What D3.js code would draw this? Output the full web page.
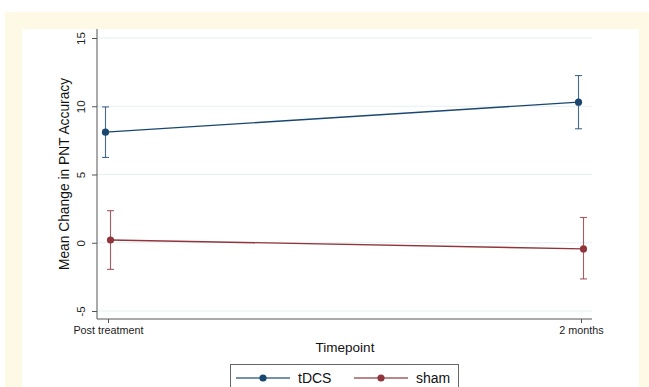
<!DOCTYPE html>
<html>
<head>
<meta charset="utf-8">
<script src="https://cdn.jsdelivr.net/npm/d3@7"></script>
<style>
  html, body { margin: 0; padding: 0; background: #ffffff; }
  svg { display: block; font-family: "Liberation Sans", Arial, Helvetica, sans-serif; }
</style>
</head>
<body>
<svg id="chart" width="649" height="387"></svg>
<script>
// Timepoints on the x axis
const timepoints = ["Post treatment", "2 months"];
// Group means and 95% confidence limits at each timepoint
const groups = ["tDCS", "sham"];
const tdcsMean = [8.1, 10.3];
const tdcsLower = [6.25, 8.35];
const tdcsUpper = [9.95, 12.25];
const shamMean = [0.2, -0.45];
const shamLower = [-1.95, -2.65];
const shamUpper = [2.35, 1.85];
const yTicks = [-5, 0, 5, 10, 15];

const colors = { tDCS: "#1a476f", sham: "#90353b" };
const series = [
  { name: "tDCS", mean: tdcsMean, lo: tdcsLower, hi: tdcsUpper, shift: -2.5 },
  { name: "sham", mean: shamMean, lo: shamLower, hi: shamUpper, shift: 2.5 }
];

const svg = d3.select("#chart");
const W = 649, H = 387;

// Frame: cream border around a white panel
svg.append("rect").attr("x", 5).attr("y", 12).attr("width", W - 5).attr("height", H - 12).attr("fill", "#fef9e5");
svg.append("rect").attr("x", 22).attr("y", 29).attr("width", 617).attr("height", H - 29).attr("fill", "#ffffff");

const plot = { left: 97, right: 592, top: 29, bottom: 319 };

const x = d3.scalePoint().domain(timepoints).range([108, 581]);
const y = d3.scaleLinear().domain([-5, 15]).range([311, 38]);

// Horizontal gridlines
svg.append("g").selectAll("line").data(yTicks).join("line")
  .attr("x1", plot.left).attr("x2", plot.right)
  .attr("y1", d => y(d)).attr("y2", d => y(d))
  .attr("stroke", "#e6eff1").attr("stroke-width", 1);

// Y axis (plain hyphen for negative labels)
const yAxis = svg.append("g").attr("transform", `translate(${plot.left},0)`)
  .call(d3.axisLeft(y).tickValues(yTicks).tickFormat(d => String(d)).tickSize(5).tickPadding(4));
yAxis.select(".domain").attr("d", `M0,${plot.top}V${plot.bottom}`).attr("stroke", "#555");
yAxis.selectAll(".tick line").attr("stroke", "#555");
yAxis.selectAll(".tick text")
  .attr("fill", "#222").attr("font-size", 11.5)
  .attr("transform", "rotate(-90)")
  .attr("x", 0).attr("y", -16).attr("dy", "0.35em")
  .attr("text-anchor", "middle");

// X axis
const xAxis = svg.append("g").attr("transform", `translate(0,${plot.bottom})`)
  .call(d3.axisBottom(x).tickSize(4).tickPadding(3));
xAxis.select(".domain").attr("d", `M${plot.left},0H${plot.right}`).attr("stroke", "#555");
xAxis.selectAll(".tick line").attr("stroke", "#555");
xAxis.selectAll(".tick text").attr("fill", "#222").attr("font-size", 10.8);

// Axis titles
svg.append("text")
  .attr("transform", `translate(69,${(plot.top + plot.bottom) / 2}) rotate(-90)`)
  .attr("text-anchor", "middle").attr("font-size", 13.8).attr("fill", "#111")
  .text("Mean Change in PNT Accuracy");
svg.append("text")
  .attr("x", 345).attr("y", 352).attr("text-anchor", "middle")
  .attr("font-size", 13.5).attr("fill", "#111").text("Timepoint");

// Lines, error bars and markers
series.forEach(s => {
  const c = colors[s.name];
  const pts = timepoints.map((t, i) => ({ x: x(t) + s.shift, m: s.mean[i], lo: s.lo[i], hi: s.hi[i] }));
  const g = svg.append("g");
  g.append("path").datum(pts)
    .attr("d", d3.line().x(d => d.x).y(d => y(d.m)))
    .attr("fill", "none").attr("stroke", c).attr("stroke-width", 1.3);
  const eb = g.selectAll(".eb").data(pts).join("g");
  eb.append("line").attr("x1", d => d.x).attr("x2", d => d.x)
    .attr("y1", d => y(d.lo)).attr("y2", d => y(d.hi))
    .attr("stroke", c).attr("stroke-width", 1.1).attr("opacity", 0.8);
  [d => d.lo, d => d.hi].forEach(f => {
    eb.append("line").attr("x1", d => d.x - 3.5).attr("x2", d => d.x + 3.5)
      .attr("y1", d => y(f(d))).attr("y2", d => y(f(d)))
      .attr("stroke", c).attr("stroke-width", 1.1).attr("opacity", 0.8);
  });
  eb.append("circle").attr("cx", d => d.x).attr("cy", d => y(d.m))
    .attr("r", 3.6).attr("fill", c);
});

// Legend
const lg = svg.append("g");
lg.append("rect").attr("x", 230.5).attr("y", 364.5).attr("width", 228).attr("height", 40)
  .attr("fill", "#fff").attr("stroke", "#666").attr("stroke-width", 1);
const legendItems = [
  { name: groups[0], x0: 236 },
  { name: groups[1], x0: 354 }
];
legendItems.forEach(it => {
  const c = colors[it.name];
  lg.append("line").attr("x1", it.x0).attr("x2", it.x0 + 54).attr("y1", 378).attr("y2", 378)
    .attr("stroke", c).attr("stroke-width", 1.3).attr("opacity", 0.8);
  lg.append("circle").attr("cx", it.x0 + 27).attr("cy", 378).attr("r", 3.6).attr("fill", c);
  lg.append("text").attr("x", it.x0 + 62).attr("y", 383).attr("font-size", 14)
    .attr("fill", "#111").text(it.name);
});
</script>
</body>
</html>
